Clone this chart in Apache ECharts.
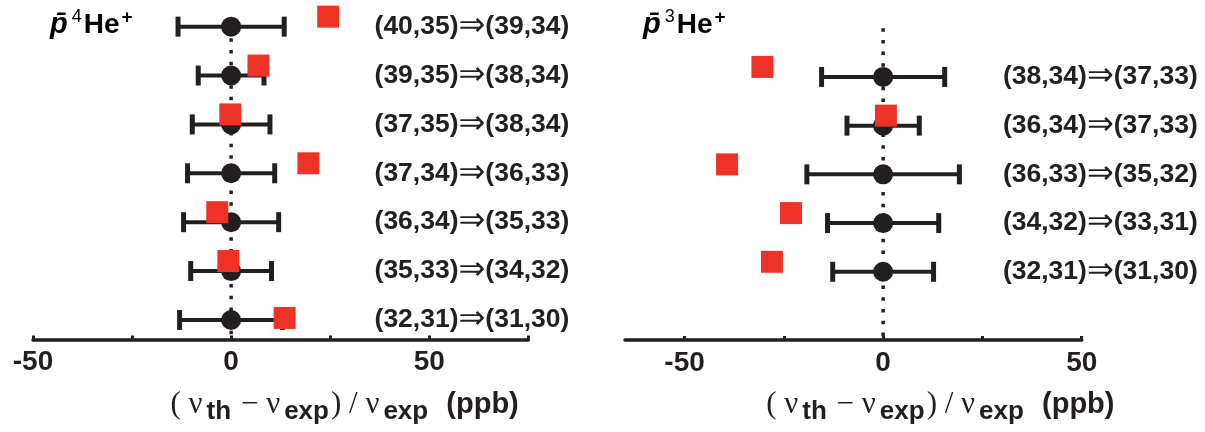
<!DOCTYPE html>
<html>
<head>
<meta charset="utf-8">
<script src="https://cdn.jsdelivr.net/npm/echarts@6/dist/echarts.min.js"></script>
<style>
  html, body { margin: 0; padding: 0; background: #ffffff; }
  #chart { width: 1205px; height: 432px; }
</style>
</head>
<body>
<div id="chart"></div>
<script>
// ---- data: antiprotonic helium transition frequencies, (theory - experiment) / experiment in ppb ----
// p̄⁴He⁺ transitions, top to bottom
const he4Transitions = ['(40,35)⇒(39,34)', '(39,35)⇒(38,34)', '(37,35)⇒(38,34)', '(37,34)⇒(36,33)',
                        '(36,34)⇒(35,33)', '(35,33)⇒(34,32)', '(32,31)⇒(31,30)'];
const he4Experiment = [0, 0, 0, 0, 0, 0, 0];
const he4ExpError = [13.4, 8.3, 9.8, 11.0, 12.0, 10.2, 13.0];
const he4Theory = [24.5, 6.9, -0.2, 19.5, -3.5, -0.7, 13.5];

// p̄³He⁺ transitions, top to bottom
const he3Transitions = ['(38,34)⇒(37,33)', '(36,34)⇒(37,33)', '(36,33)⇒(35,32)',
                        '(34,32)⇒(33,31)', '(32,31)⇒(31,30)'];
const he3Experiment = [0, 0, 0, 0, 0];
const he3ExpError = [15.5, 9.1, 19.2, 14.0, 12.7];
const he3Theory = [-30.4, 0.7, -39.3, -23.2, -28.0];

// axis ticks and labels
const he4TickValues = [-50, -25, 0, 25, 50, 75];
const he3TickValues = [-50, -25, 0, 25, 50];
const xLabelValues = [-50, 0, 50];

// ---- styling ----
const INK = '#231f20';
const RED = '#ee3326';
const SANS = '"Liberation Sans", Arial, Helvetica, sans-serif';
const SERIF = '"Liberation Serif", "Times New Roman", serif';

const chart = echarts.init(document.getElementById('chart'), null, { renderer: 'canvas' });

const transitionRich = {
  t: { fontFamily: SANS, fontWeight: 'bold', fontSize: 26.5, color: INK },
  a: { fontFamily: '"DejaVu Sans", sans-serif', fontWeight: 'normal', fontSize: 32, color: INK }
};
function transitionLabel(text) {
  const parts = text.split('⇒');
  return '{t|' + parts[0] + '}{a|⇒}{t|' + parts[1] + '}';
}

const axisNameRich = {
  n: { fontFamily: SERIF, fontSize: 31, color: INK, lineHeight: 40 },
  s: { fontFamily: SANS, fontWeight: 'bold', fontSize: 26, color: INK, lineHeight: 22,
       verticalAlign: 'bottom', padding: [0, 2, 0, 4] },
  b: { fontFamily: SANS, fontWeight: 'bold', fontSize: 29, color: INK, lineHeight: 40 }
};
const axisNameText = '{n|( ν}{s|th}{n| − ν}{s|exp}{n|) / ν}{s|exp}{b|  (ppb)}';

function xAxisFor(gridIndex, min, max, tickValues, shift) {
  return {
    type: 'value', gridIndex, min, max, position: 'bottom',
    splitLine: { show: false },
    axisLine: { show: true, onZero: false, lineStyle: { color: INK, width: 3.5 } },
    axisTick: { show: true, inside: true, length: 4, customValues: tickValues,
                lineStyle: { color: INK, width: 3 } },
    axisLabel: { show: true, customValues: xLabelValues, margin: 9,
                 fontFamily: SANS, fontWeight: 'bold', fontSize: 28, color: INK },
    name: axisNameText,
    nameLocation: 'middle',
    nameGap: 45,
    nameTextStyle: { rich: axisNameRich, padding: [0, 0, 0, shift] }
  };
}

function yAxisFor(gridIndex, min, max, labels, margin) {
  return {
    type: 'value', gridIndex, min, max, inverse: true, position: 'right',
    splitLine: { show: false },
    axisLine: { show: false },
    axisTick: { show: false },
    axisLabel: {
      show: true, inside: false, align: 'right', margin,
      customValues: labels.map((_, i) => i),
      formatter: v => transitionLabel(labels[v]),
      rich: transitionRich
    }
  };
}

function errorBarSeries(axisIndex, centers, errors) {
  return {
    type: 'custom', xAxisIndex: axisIndex, yAxisIndex: axisIndex, z: 2,
    data: centers.map((c, i) => [c, i, errors[i]]),
    encode: { x: 0, y: 1 },
    renderItem(params, api) {
      const c = api.value(0), row = api.value(1), e = api.value(2);
      const pL = api.coord([c - e, row]);
      const pR = api.coord([c + e, row]);
      const capH = 20;
      return {
        type: 'group',
        children: [
          { type: 'line', shape: { x1: pL[0], y1: pL[1], x2: pR[0], y2: pR[1] },
            style: { stroke: INK, lineWidth: 4 } },
          { type: 'line', shape: { x1: pL[0], y1: pL[1] - capH / 2, x2: pL[0], y2: pL[1] + capH / 2 },
            style: { stroke: INK, lineWidth: 5 } },
          { type: 'line', shape: { x1: pR[0], y1: pR[1] - capH / 2, x2: pR[0], y2: pR[1] + capH / 2 },
            style: { stroke: INK, lineWidth: 5 } }
        ]
      };
    }
  };
}

function zeroLineSeries(axisIndex, yFrom, yTo) {
  return {
    type: 'line', xAxisIndex: axisIndex, yAxisIndex: axisIndex, z: 1,
    data: [[0, yFrom], [0, yTo]],
    showSymbol: false, silent: true,
    lineStyle: { color: INK, width: 3.5, type: [3.5, 8.2], cap: 'butt' }
  };
}

function experimentSeries(axisIndex, values) {
  return {
    type: 'scatter', xAxisIndex: axisIndex, yAxisIndex: axisIndex, z: 3,
    symbol: 'circle', symbolSize: 20,
    itemStyle: { color: INK, opacity: 1 },
    data: values.map((v, i) => [v, i])
  };
}

// theory squares sit slightly above their row; the last p̄⁴He⁺ row sits level
const squareLift = -10;
function theorySeries(axisIndex, values, liftOverrides) {
  return {
    type: 'scatter', xAxisIndex: axisIndex, yAxisIndex: axisIndex, z: 4,
    symbol: 'rect', symbolSize: 22, symbolOffset: [0, squareLift],
    itemStyle: { color: RED, opacity: 1 },
    data: values.map((v, i) => (liftOverrides && liftOverrides[i] !== undefined)
      ? { value: [v, i], symbolOffset: [0, liftOverrides[i]] }
      : [v, i])
  };
}

const he4YMin = -0.5, he4YMax = 6.4;
const he3YMin = -1, he3YMax = 5.4;

function panelTitle(x, mass) {
  return {
    type: 'text', left: x, top: 8, z: 10,
    style: {
      text: '{p|p\u0304}{m|' + mass + '}{h|He}{c|+}',
      rich: {
        p: { fontFamily: SANS, fontWeight: 'bold', fontStyle: 'italic', fontSize: 29, color: INK, lineHeight: 34, padding: [0, 4, 0, 0] },
        m: { fontFamily: SANS, fontWeight: 'normal', fontSize: 18, color: INK, lineHeight: 26, verticalAlign: 'top', padding: [0, 2, 0, 0] },
        h: { fontFamily: SANS, fontWeight: 'bold', fontSize: 28, color: INK, lineHeight: 34 },
        c: { fontFamily: SANS, fontWeight: 'bold', fontSize: 19, color: INK, lineHeight: 12, verticalAlign: 'top', padding: [0, 0, 0, 2] }
      }
    }
  };
}

const option = {
  backgroundColor: '#ffffff',
  animation: false,
  grid: [
    { left: 33, right: 676.7, top: 2.2, bottom: 92.5, containLabel: false },
    { left: 625, right: 123.3, top: 28.2, bottom: 92, containLabel: false }
  ],
  xAxis: [
    xAxisFor(0, -50, 75, he4TickValues, 128),
    xAxisFor(1, -65, 50, he3TickValues, 174)
  ],
  yAxis: [
    yAxisFor(0, he4YMin, he4YMax, he4Transitions, 41),
    yAxisFor(1, he3YMin, he3YMax, he3Transitions, 116)
  ],
  graphic: [panelTitle(50, '4'), panelTitle(643, '3')],
  series: [
    zeroLineSeries(0, 0, he4YMax),
    errorBarSeries(0, he4Experiment, he4ExpError),
    experimentSeries(0, he4Experiment),
    theorySeries(0, he4Theory, { 6: -2 }),
    zeroLineSeries(1, he3YMin, he3YMax),
    errorBarSeries(1, he3Experiment, he3ExpError),
    experimentSeries(1, he3Experiment),
    theorySeries(1, he3Theory, null)
  ]
};

chart.setOption(option);
</script>
</body>
</html>
